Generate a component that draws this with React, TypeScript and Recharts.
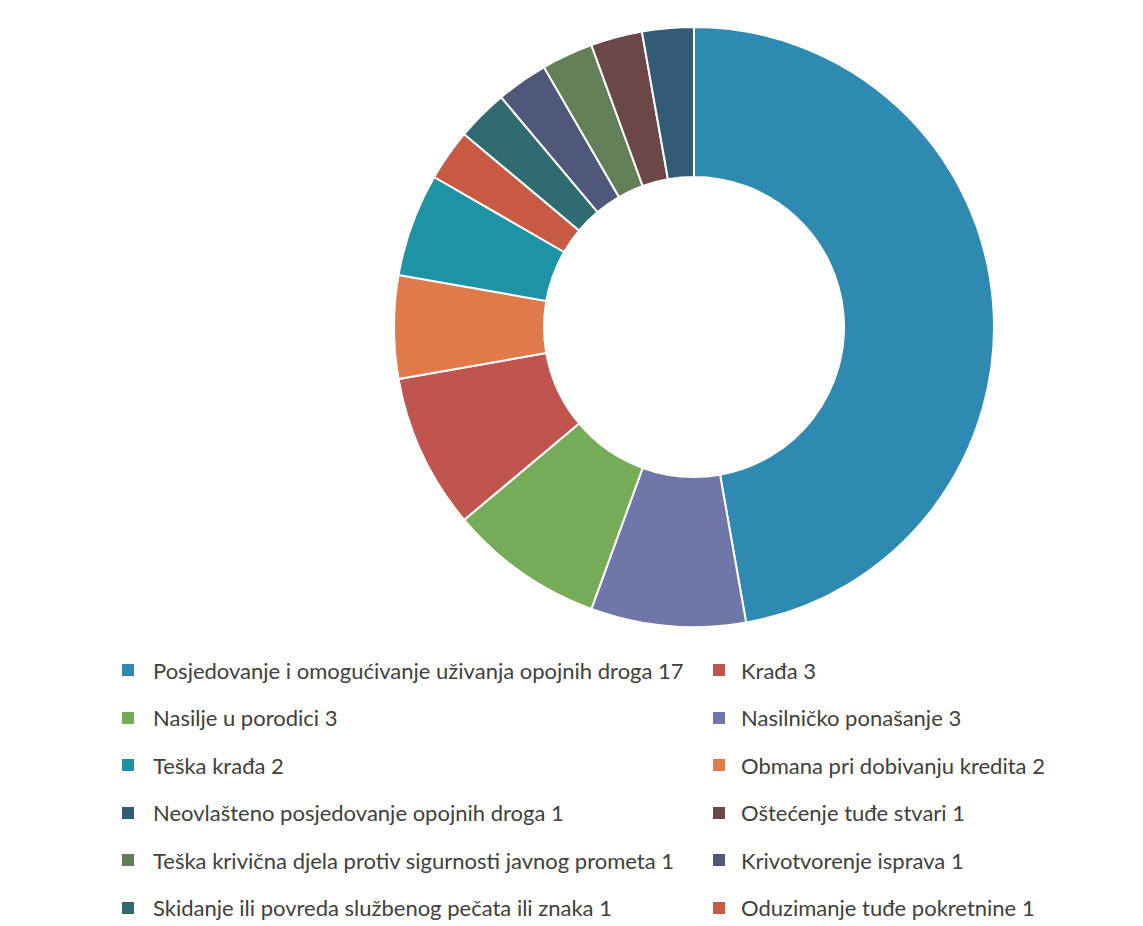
import React from "react";
import { Cell, Pie, PieChart } from "recharts";

// slice order as drawn clockwise from 12 o'clock
const sliceNames = [
  "Posjedovanje i omogućivanje uživanja opojnih droga",
  "Nasilničko ponašanje",
  "Nasilje u porodici",
  "Krađa",
  "Obmana pri dobivanju kredita",
  "Teška krađa",
  "Oduzimanje tuđe pokretnine",
  "Skidanje ili povreda službenog pečata ili znaka",
  "Krivotvorenje isprava",
  "Teška krivična djela protiv sigurnosti javnog prometa",
  "Oštećenje tuđe stvari",
  "Neovlašteno posjedovanje opojnih droga",
];
const sliceValues = [17, 3, 3, 3, 2, 2, 1, 1, 1, 1, 1, 1];
const sliceColors = [
  "#2f8ab1",
  "#6f76a8",
  "#76ab57",
  "#c05550",
  "#e07a4a",
  "#1d93a4",
  "#c85a44",
  "#2f6b70",
  "#4f5878",
  "#637f58",
  "#6c4748",
  "#325c76",
];

// legend order (row by row, two columns)
const legendOrder = [
  "Posjedovanje i omogućivanje uživanja opojnih droga",
  "Krađa",
  "Nasilje u porodici",
  "Nasilničko ponašanje",
  "Teška krađa",
  "Obmana pri dobivanju kredita",
  "Neovlašteno posjedovanje opojnih droga",
  "Oštećenje tuđe stvari",
  "Teška krivična djela protiv sigurnosti javnog prometa",
  "Krivotvorenje isprava",
  "Skidanje ili povreda službenog pečata ili znaka",
  "Oduzimanje tuđe pokretnine",
];

const data = sliceNames.map((name, i) => ({ name, value: sliceValues[i] }));

export default function App() {
  return (
    <div style={{ position: "relative", width: 1127, height: 918, fontFamily: "Lato, 'Open Sans', sans-serif" }}>
      <PieChart width={1127} height={650}>
        <Pie
          data={data}
          dataKey="value"
          nameKey="name"
          cx={681}
          cy={314}
          innerRadius={150}
          outerRadius={300}
          startAngle={90}
          endAngle={-270}
          stroke="#ffffff"
          strokeWidth={2}
          isAnimationActive={false}
        >
          {data.map((d, i) => (
            <Cell key={d.name} fill={sliceColors[i]} />
          ))}
        </Pie>
      </PieChart>
      {legendOrder.map((name, k) => {
        const i = sliceNames.indexOf(name);
        const col = k % 2;
        const row = Math.floor(k / 2);
        return (
          <div
            key={name}
            style={{
              position: "absolute",
              left: col === 0 ? 114 : 705,
              top: 648 + row * 47.5,
              height: 28,
              display: "flex",
              alignItems: "center",
              whiteSpace: "nowrap",
              fontSize: 22,
              color: "#404040",
            }}
          >
            <span style={{ width: 12, height: 12, background: sliceColors[i], marginRight: col === 0 ? 19 : 16, display: "inline-block" }} />
            <span>{name} {sliceValues[i]}</span>
          </div>
        );
      })}
    </div>
  );
}
